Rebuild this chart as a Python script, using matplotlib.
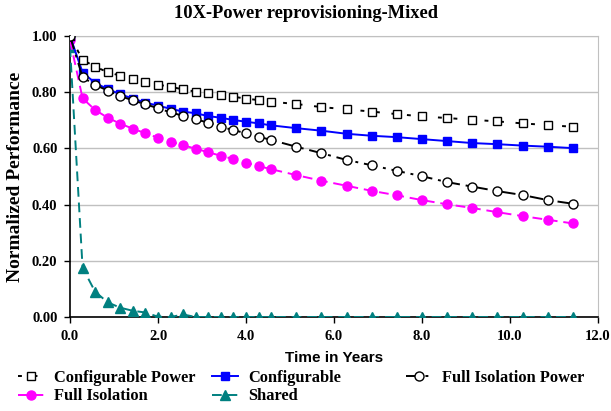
import matplotlib
matplotlib.use("Agg")
import matplotlib.pyplot as plt

years = [0.0, 0.286, 0.571, 0.857, 1.143, 1.429, 1.714, 2.0, 2.286, 2.571,
         2.857, 3.143, 3.429, 3.714, 4.0, 4.286, 4.571, 5.143, 5.714, 6.286,
         6.857, 7.429, 8.0, 8.571, 9.143, 9.714, 10.286, 10.857, 11.429]

config_power = [1.0, 0.915, 0.891, 0.871, 0.859, 0.846, 0.835, 0.827, 0.819, 0.810,
                0.802, 0.797, 0.789, 0.784, 0.777, 0.772, 0.766, 0.758, 0.747, 0.739,
                0.731, 0.722, 0.714, 0.708, 0.702, 0.696, 0.689, 0.683, 0.677]
configurable = [1.0, 0.870, 0.833, 0.811, 0.793, 0.777, 0.763, 0.752, 0.741, 0.731,
                0.725, 0.715, 0.709, 0.701, 0.695, 0.689, 0.682, 0.672, 0.663, 0.652,
                0.645, 0.640, 0.633, 0.626, 0.619, 0.615, 0.610, 0.606, 0.601]
full_iso_power = [1.0, 0.853, 0.826, 0.806, 0.786, 0.771, 0.757, 0.743, 0.728, 0.716,
                  0.703, 0.692, 0.677, 0.665, 0.654, 0.642, 0.630, 0.606, 0.583, 0.559,
                  0.540, 0.520, 0.501, 0.480, 0.464, 0.448, 0.434, 0.416, 0.403]
full_iso = [0.985, 0.778, 0.737, 0.709, 0.688, 0.670, 0.654, 0.638, 0.624, 0.611,
            0.599, 0.586, 0.574, 0.562, 0.549, 0.537, 0.526, 0.505, 0.485, 0.467,
            0.449, 0.433, 0.416, 0.401, 0.388, 0.373, 0.359, 0.346, 0.333]
shared = [0.96, 0.175, 0.090, 0.052, 0.033, 0.022, 0.016, 0.001, 0.0, 0.009,
          0.0, 0.0, 0.0, 0.0, 0.0, 0.0, 0.0, 0.0, 0.0, 0.0,
          0.0, 0.0, 0.0, 0.0, 0.0, 0.0, 0.0, 0.0, 0.0]

x_ticks = [0, 2, 4, 6, 8, 10, 12]
y_ticks = [0.0, 0.2, 0.4, 0.6, 0.8, 1.0]

serif = ["Liberation Serif", "DejaVu Serif"]
sans = ["Liberation Sans", "DejaVu Sans"]

fig = plt.figure(figsize=(6.11, 4.11), dpi=100)
ax = fig.add_axes([70/611, 1-317/411, 528/611, 281/411])

ax.plot(years, shared, color="#008080", linestyle=(0, (5, 3)), lw=1.4,
        marker="^", ms=7, mfc="#008080", mec="#008080", label="Shared", zorder=3)
ax.plot(years, full_iso, color="#FF00FF", linestyle=(0, (5, 3)), lw=1.4,
        marker="o", ms=6.5, mfc="#FF00FF", mec="#FF00FF", label="Full Isolation", zorder=4)
ax.plot(years, configurable, color="#0000FF", linestyle="-", lw=1.4,
        marker="s", ms=6, mfc="#0000FF", mec="#0000FF", label="Configurable", zorder=5)
ax.plot(years, config_power, color="black", linestyle=(0, (2, 6)), lw=1.4,
        marker="s", ms=6, mfc="white", mec="black", mew=1.0, label="Configurable Power", zorder=6)
ax.plot(years, full_iso_power, color="black", linestyle=(0, (7, 3, 1.5, 3)), lw=1.4,
        marker="o", ms=6.5, mfc="white", mec="black", mew=1.0, label="Full Isolation Power", zorder=7)

ax.set_xlim(0, 12)
ax.set_ylim(0, 1.0)
ax.set_xticks(x_ticks)
ax.set_xticklabels([f"{v:.1f}" for v in x_ticks])
ax.set_yticks(y_ticks)
ax.set_yticklabels([f"{v:.2f}" for v in y_ticks])
for lab in ax.get_xticklabels() + ax.get_yticklabels():
    lab.set_fontfamily(serif)
    lab.set_fontweight("bold")
    lab.set_fontsize(10.5)
ax.tick_params(axis="both", direction="out", length=4, width=1, color="black", pad=5)
ax.grid(axis="y", color="#c0c0c0", lw=1)
ax.set_axisbelow(True)
for s in ["top", "right"]:
    ax.spines[s].set_color("#c0c0c0")
for s in ["left", "bottom"]:
    ax.spines[s].set_color("black")
    ax.spines[s].set_linewidth(1.2)

fig.text(0.5, 1 - 13/411, "10X-Power reprovisioning-Mixed", ha="center", va="center",
         fontfamily=serif, fontweight="bold", fontsize=13.3)
ax.set_ylabel("Normalized Performance", fontfamily=serif, fontweight="bold", fontsize=14, labelpad=6)
ax.set_xlabel("Time in Years", fontfamily=sans, fontweight="bold", fontsize=11, labelpad=6)

h, l = ax.get_legend_handles_labels()
columns = [["Configurable Power", "Full Isolation"], ["Configurable", "Shared"],
           ["Full Isolation Power"]]
col_x = [18, 212, 406]
for names, cx in zip(columns, col_x):
    hs = [h[l.index(k)] for k in names]
    fig.legend(hs, names, loc="upper left", bbox_to_anchor=(cx/611, 1-370/411), ncol=1,
               frameon=False, prop={"family": serif, "weight": "bold", "size": 11.8},
               handlelength=1.6, handletextpad=0.6, labelspacing=0.15,
               borderpad=0, borderaxespad=0)

fig.savefig("out.png", dpi=100)
